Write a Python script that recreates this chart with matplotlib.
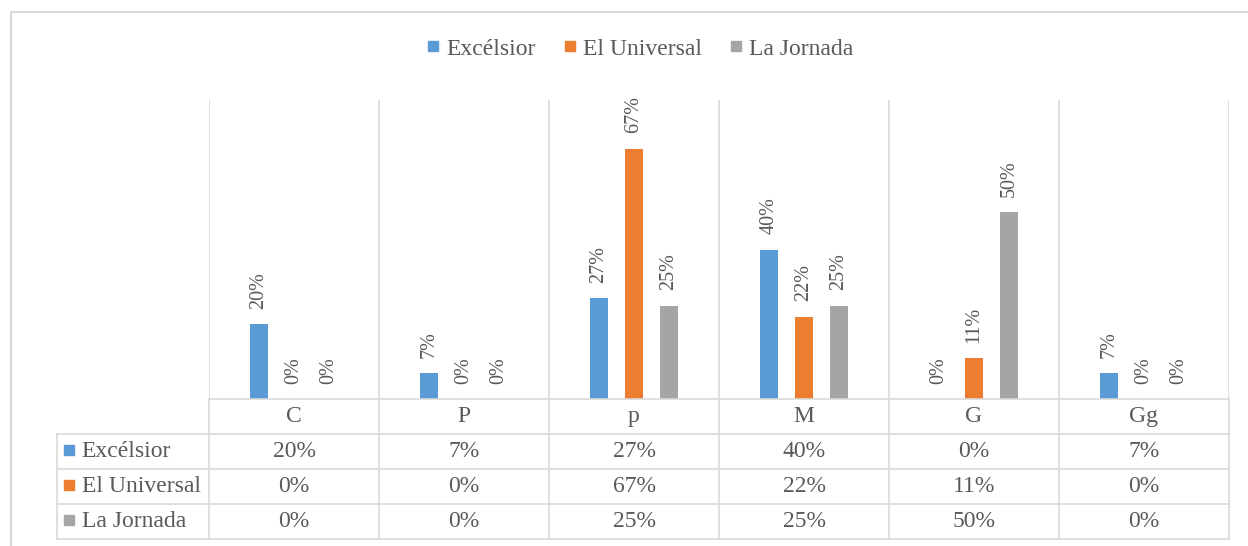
import numpy as np
import matplotlib.pyplot as plt
from matplotlib.lines import Line2D
from matplotlib.patches import Rectangle

categories = ['C', 'P', 'p', 'M', 'G', 'Gg']
series = ['Excélsior', 'El Universal', 'La Jornada']
excelsior = [0.20, 0.07, 0.27, 0.40, 0.00, 0.07]
universal = [0.00, 0.00, 0.67, 0.22, 0.11, 0.00]
jornada = [0.00, 0.00, 0.25, 0.25, 0.50, 0.00]
colors = ['#5B9BD5', '#ED7D31', '#A5A5A5']

grid = '#D9D9D9'
txt = '#595959'
plt.rcParams['font.family'] = ['Liberation Serif', 'DejaVu Serif']

W, H = 1248, 546
fig = plt.figure(figsize=(W / 100, H / 100), dpi=100)


def box(l, t, r, b):
    # pixel box -> figure fraction
    return [l / W, 1 - b / H, (r - l) / W, (b - t) / H]


# outer chart frame (right and bottom run off the image)
fig.add_artist(Rectangle((11 / W, -0.1), 2, 1 - 12 / H + 0.1, transform=fig.transFigure,
                         fill=False, ec=grid, lw=1.5))

# bars
ax = fig.add_axes(box(209, 100, 1229, 399))
x = np.arange(len(categories))
offsets = [-0.206, 0, 0.206]
all_vals = [excelsior, universal, jornada]
for vals, off, c in zip(all_vals, offsets, colors):
    ax.bar(x + off, vals, width=0.106, color=c)
    for xi, v in zip(x + off, vals):
        ax.annotate(f'{v:.0%}', (xi, v), xytext=(0, 11), textcoords='offset points',
                    rotation=90, ha='center', va='bottom', fontsize=14.5, color=txt)
for k in range(len(categories) + 1):
    ax.axvline(k - 0.5, color=grid, lw=1.2)
ax.set_xlim(-0.5, 5.5)
ax.set_ylim(0, 0.8)
ax.axis('off')

# data table below
tax = fig.add_axes(box(57, 399, 1229, 539))
xmin = -0.5 - 152 / 170
tax.set_xlim(xmin, 5.5)
tax.set_ylim(4, 0)
tax.axis('off')
tax.plot([-0.5, 5.5], [0, 0], color=grid, lw=1.2, clip_on=False)
for r in range(1, 5):
    tax.plot([xmin, 5.5], [r, r], color=grid, lw=1.2, clip_on=False)
for k in range(len(categories) + 1):
    tax.plot([k - 0.5, k - 0.5], [0, 4], color=grid, lw=1.2, clip_on=False)
tax.plot([xmin, xmin], [1, 4], color=grid, lw=1.2, clip_on=False)

for k, cat in enumerate(categories):
    tax.text(k, 0.5, cat, ha='center', va='center', fontsize=17, color=txt)
for r, (name, vals, c) in enumerate(zip(series, all_vals, colors)):
    y = r + 1.5
    tax.plot([xmin + 0.068], [y - 0.05], 's', ms=7.5, color=c, clip_on=False)
    tax.text(xmin + 0.145, y, name, ha='left', va='center', fontsize=17, color=txt)
    for k, v in enumerate(vals):
        tax.text(k, y, f'{v:.0%}', ha='center', va='center', fontsize=17, color=txt)

# legend at top
handles = [Line2D([], [], marker='s', ls='', ms=7.5, color=c) for c in colors]
fig.legend(handles, series, loc='center', bbox_to_anchor=(640 / W, 1 - 49 / H), ncol=3,
           frameon=False, fontsize=17, handlelength=0.5, handletextpad=0.3,
           columnspacing=1.2, labelcolor=txt)

fig.savefig('out.png', dpi=100)
